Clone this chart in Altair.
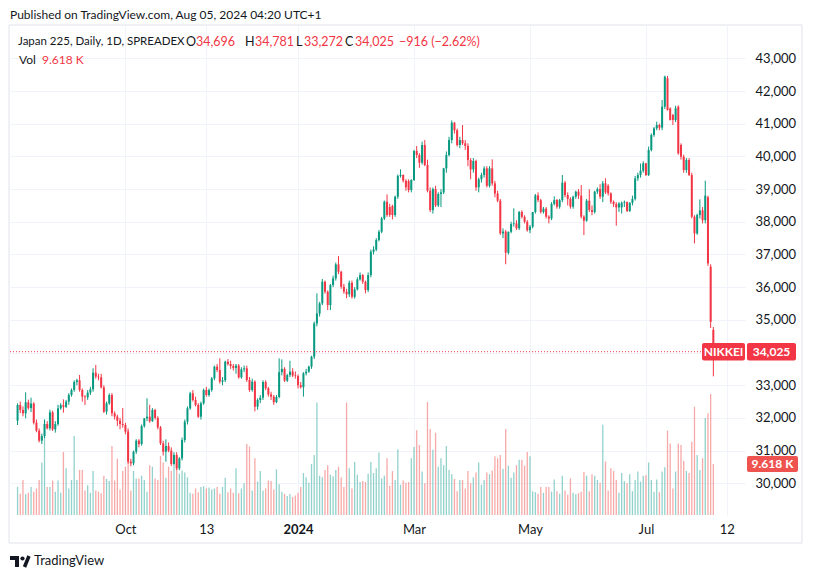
import altair as alt
import pandas as pd

# ---------------- data ----------------
opens = [
    31915, 32395, 32242, 32140, 32477, 32300, 32440, 31854, 31610, 31304,
    31446, 31814, 31681, 32170, 31650, 31810, 32293, 32390, 32340, 32497,
    32700, 32854, 33099, 33150, 32854, 32650, 32630, 32772, 32874, 33384,
    33262, 33241, 32935, 32191, 32446, 32700, 32140, 32040, 31915, 31814,
    31783, 31579, 30661, 30610, 30967, 31304, 31200, 31752, 31987, 32038,
    31900, 32242, 32000, 31711, 31222, 30967, 31140, 30998, 30590, 30865,
    30456, 30763, 31324, 31885, 32293, 32752, 32548, 32395, 32038, 32446,
    32854, 32701, 32854, 33211, 33568, 33466, 33109, 33150, 33721, 33650,
    33588, 33530, 33600, 33241, 33486, 33517, 33160, 32854, 33109, 32344,
    32548, 32620, 33100, 32905, 32720, 32650, 32480, 32640, 33400, 33500,
    33140, 33310, 33415, 33300, 33280, 33000, 32940, 33364, 33415, 33568,
    33874, 34891, 35197, 35503, 36166, 35860, 35452, 36064, 36268, 36697,
    36472, 36013, 35860, 35780, 36135, 35705, 35930, 36237, 36370, 36166,
    35911, 36370, 37084, 37150, 37441, 37696, 38104, 38614, 38450, 38480,
    38206, 38767, 39399, 39430, 39257, 39246, 38971, 39277, 40164, 40042,
    39807, 40348, 39736, 38950, 38359, 39000, 38500, 38850, 38900, 39634,
    40042, 40500, 41031, 40800, 40348, 40500, 40400, 40320, 39889, 39600,
    39860, 39053, 39300, 39430, 39634, 39100, 39634, 39175, 38865, 38645,
    37645, 37700, 37053, 37695, 37930, 37950, 37800, 38300, 38150, 38000,
    37740, 37850, 38300, 38808, 38660, 38300, 38400, 38155, 38100, 38543,
    38664, 38460, 38660, 39195, 38818, 38700, 38461, 38767, 38920, 38800,
    38155, 38033, 38645, 38359, 38300, 38920, 39000, 38767, 39175, 39100,
    38869, 38614, 38540, 38440, 38440, 38580, 38600, 38330, 38580, 38700,
    39328, 39430, 39563, 39787, 39430, 40195, 40654, 40858, 40960, 40880,
    41521, 42388, 41470, 41266, 41113, 41521, 40348, 39991, 39583, 39889,
    39430, 38155, 37645, 38206, 38350, 38050, 38750, 36625, 34696,
]
highs = [
    32446, 32500, 32350, 32783, 32560, 32620, 32480, 31950, 31680, 31520,
    31950, 31900, 32250, 32220, 31900, 32400, 32450, 32568, 32550, 32760,
    32900, 33150, 33200, 33313, 32900, 32700, 32850, 32950, 33520, 33620,
    33350, 33350, 33000, 32500, 32750, 32760, 32200, 32100, 32000, 32300,
    31850, 31650, 30750, 31000, 31350, 31350, 31800, 32000, 32600, 32400,
    32300, 32280, 32050, 31750, 31300, 31345, 31250, 31100, 30950, 30950,
    30800, 31400, 31950, 32350, 32800, 32850, 32650, 32450, 32500, 32900,
    32950, 32900, 33250, 33600, 33650, 33823, 33250, 33750, 33800, 33750,
    33650, 33650, 33650, 33550, 33600, 33600, 33250, 33200, 33150, 32600,
    32700, 33150, 33150, 32950, 32800, 32700, 32700, 33820, 33790, 33550,
    33350, 33750, 33520, 33420, 33330, 33100, 33400, 33500, 33600, 33900,
    34950, 35809, 35550, 36250, 36200, 35900, 36100, 36350, 36750, 36951,
    36500, 36100, 35950, 36200, 36200, 36000, 36300, 36450, 36400, 36200,
    36450, 37150, 37250, 37500, 37750, 38150, 38650, 38838, 38550, 38520,
    38800, 39450, 39603, 39450, 39300, 39300, 39300, 40200, 40317, 40100,
    40450, 40500, 39900, 39050, 39050, 39100, 38900, 39000, 39650, 40150,
    40600, 41100, 41050, 40850, 40600, 40960, 40500, 40400, 39950, 39950,
    39900, 39350, 39500, 39700, 39700, 39700, 39910, 39250, 38950, 38700,
    37800, 37750, 37700, 38000, 38410, 38050, 38330, 38350, 38200, 38050,
    37900, 38300, 38850, 38900, 38700, 38450, 38450, 38200, 38600, 38780,
    38700, 38700, 39430, 39250, 38900, 38750, 38800, 38950, 39000, 39124,
    38200, 38700, 38991, 38500, 38950, 39050, 39150, 39250, 39330, 39150,
    38900, 38650, 38600, 38600, 38620, 38650, 38620, 38600, 38800, 39400,
    39500, 39780, 39850, 39800, 40300, 40700, 40900, 41062, 41000, 41725,
    42470, 42460, 41500, 41300, 41550, 41560, 40400, 40050, 39950, 39950,
    39500, 38200, 38250, 38685, 38450, 39257, 38800, 36700, 34781,
]
lows = [
    31783, 32150, 32050, 31990, 32250, 32180, 31800, 31560, 31250, 31200,
    31380, 31650, 31620, 31600, 31550, 31760, 32250, 32160, 32300, 32400,
    32650, 32800, 33000, 32800, 32500, 32395, 32550, 32700, 32800, 33200,
    33150, 32900, 32150, 32100, 32400, 32050, 31950, 31750, 31650, 31700,
    31500, 30600, 30520, 30550, 30900, 31100, 31150, 31700, 31900, 31850,
    31880, 31950, 31650, 31170, 30850, 30660, 30950, 30530, 30550, 30406,
    30400, 30700, 31250, 31800, 32250, 32500, 32350, 32000, 31950, 32400,
    32650, 32650, 32800, 33150, 33400, 33050, 33000, 33100, 33600, 33500,
    33450, 33350, 33200, 33200, 33400, 33100, 32800, 32800, 32200, 32250,
    32450, 32550, 32850, 32650, 32550, 32400, 32450, 32600, 33300, 33100,
    33100, 33250, 33250, 33200, 32900, 32900, 32650, 33300, 33380, 33500,
    33800, 34800, 35100, 35450, 35800, 35299, 35300, 36000, 36200, 36400,
    35950, 35800, 35660, 35700, 35650, 35650, 35900, 36200, 36100, 35809,
    35850, 36300, 37000, 37100, 37400, 37650, 38050, 38150, 38150, 38073,
    38150, 38700, 39350, 39200, 38950, 38900, 38900, 39250, 39950, 39650,
    39750, 39700, 38900, 38300, 38250, 38450, 38450, 38450, 38850, 39500,
    40000, 40400, 40700, 40300, 40250, 40350, 40200, 39700, 39300, 39500,
    38950, 38900, 39200, 39350, 39050, 39050, 39100, 38750, 38600, 37600,
    37500, 36700, 37000, 37650, 37850, 37750, 37750, 38100, 37950, 37700,
    37650, 37800, 38250, 38600, 38250, 38250, 38100, 37951, 38050, 38500,
    38400, 38400, 38600, 38750, 38500, 38400, 38400, 38700, 38700, 38100,
    37594, 38000, 38300, 38200, 38250, 38850, 38700, 38600, 38850, 38800,
    38550, 38450, 37880, 38300, 38250, 38450, 38300, 38300, 38500, 38650,
    39250, 39350, 39500, 39400, 39400, 40150, 40600, 40800, 40800, 40800,
    41450, 41400, 41100, 40960, 41050, 40050, 39900, 39500, 39500, 39400,
    38100, 37339, 37600, 38100, 37950, 37950, 36650, 34750, 33272,
]
closes = [
    32395, 32242, 32140, 32477, 32300, 32440, 31854, 31610, 31304, 31446,
    31814, 31681, 32170, 31650, 31810, 32293, 32390, 32340, 32497, 32700,
    32854, 33099, 33150, 32854, 32650, 32630, 32772, 32874, 33384, 33262,
    33241, 32935, 32191, 32446, 32700, 32140, 32040, 31915, 31814, 31783,
    31579, 30661, 30610, 30967, 31304, 31200, 31752, 31987, 32038, 31900,
    32242, 32000, 31711, 31222, 30967, 31140, 30998, 30590, 30865, 30456,
    30763, 31324, 31885, 32293, 32752, 32548, 32395, 32038, 32446, 32854,
    32701, 32854, 33211, 33568, 33466, 33109, 33150, 33721, 33650, 33588,
    33530, 33600, 33241, 33486, 33517, 33160, 32854, 33109, 32344, 32548,
    32620, 33100, 32905, 32720, 32650, 32480, 32640, 33400, 33500, 33140,
    33310, 33415, 33300, 33280, 33000, 32940, 33364, 33415, 33568, 33874,
    34891, 35197, 35503, 36166, 35860, 35452, 36064, 36268, 36697, 36472,
    36013, 35860, 35780, 36135, 35705, 35930, 36237, 36370, 36166, 35911,
    36370, 37084, 37150, 37441, 37696, 38104, 38614, 38206, 38206, 38206,
    38767, 39399, 39430, 39257, 39053, 38971, 39277, 40164, 40042, 39807,
    40348, 39736, 38950, 38359, 39000, 38500, 38850, 38900, 39634, 40042,
    40500, 41031, 40800, 40348, 40500, 40400, 40320, 39889, 39600, 39860,
    39053, 39300, 39430, 39634, 39100, 39634, 39175, 38865, 38645, 37645,
    37700, 37053, 37695, 37930, 37950, 37800, 38300, 38150, 38000, 37740,
    37850, 38300, 38808, 38660, 38300, 38400, 38155, 38100, 38543, 38664,
    38460, 38660, 39195, 38818, 38700, 38461, 38767, 38920, 38800, 38155,
    38033, 38645, 38359, 38300, 38920, 39000, 38767, 39175, 38900, 38869,
    38614, 38540, 38440, 38560, 38580, 38600, 38330, 38580, 38700, 39328,
    39430, 39563, 39787, 39430, 40195, 40654, 40858, 40960, 40880, 41521,
    42439, 41419, 41113, 41113, 41470, 40093, 39991, 39583, 39889, 39430,
    38155, 37645, 38206, 38350, 38050, 38800, 36727, 34941, 34025,
]
volumes_k = [
    5.3, 4.0, 6.6, 3.9, 4.2, 5.3, 4.4, 5.0, 6.6, 9.9,
    18.0, 5.3, 5.3, 6.5, 4.4, 6.5, 4.2, 11.9, 8.8, 5.0,
    6.6, 14.9, 6.6, 8.5, 8.5, 4.6, 5.6, 4.2, 8.3, 4.6,
    4.4, 4.1, 7.4, 6.8, 6.4, 13.0, 6.5, 10.6, 4.8, 8.3,
    9.1, 16.4, 4.6, 8.3, 6.9, 6.9, 7.4, 6.6, 4.4, 9.4,
    9.1, 6.9, 6.6, 11.1, 9.9, 7.0, 9.1, 8.3, 9.4, 8.8,
    7.8, 8.4, 8.0, 7.1, 4.2, 4.0, 5.0, 4.3, 5.3, 5.4,
    5.0, 5.2, 4.8, 5.0, 5.3, 4.0, 5.3, 7.0, 4.3, 5.0,
    4.2, 8.8, 4.1, 5.0, 6.0, 13.4, 12.9, 4.6, 10.7, 6.3,
    8.3, 4.6, 5.0, 6.5, 6.4, 4.8, 8.6, 5.8, 4.4, 4.0,
    3.6, 3.9, 3.4, 3.7, 4.2, 5.3, 7.9, 7.1, 6.1, 9.6,
    11.3, 21.2, 7.4, 7.1, 8.5, 9.4, 7.6, 7.3, 8.5, 9.1,
    7.1, 5.3, 21.2, 8.8, 5.0, 10.0, 7.6, 6.2, 6.4, 6.2,
    7.8, 10.0, 7.9, 8.8, 11.8, 6.9, 7.4, 10.7, 5.5, 8.3,
    6.6, 12.4, 5.7, 6.5, 6.1, 6.2, 10.7, 12.8, 16.0, 13.2,
    8.2, 6.0, 21.3, 16.2, 12.3, 15.5, 9.1, 10.7, 9.4, 13.0,
    8.5, 7.7, 6.8, 4.5, 6.6, 6.6, 5.0, 8.3, 6.0, 7.1,
    8.0, 9.9, 5.7, 6.6, 8.0, 7.7, 8.4, 11.1, 10.7, 11.3,
    8.7, 16.2, 9.3, 7.0, 8.0, 9.4, 10.4, 10.4, 9.3, 11.9,
    11.1, 4.5, 4.3, 4.0, 5.3, 4.2, 5.3, 5.3, 4.4, 6.7,
    4.5, 4.0, 7.4, 4.6, 3.8, 6.9, 4.2, 3.9, 4.1, 4.4,
    8.1, 7.4, 4.5, 7.7, 7.4, 6.6, 6.1, 17.0, 10.1, 4.6,
    8.8, 8.3, 6.6, 4.2, 7.9, 6.4, 6.0, 7.7, 4.5, 6.6,
    8.2, 6.3, 7.4, 7.5, 9.9, 6.6, 4.4, 6.7, 4.3, 8.2,
    9.0, 15.9, 13.5, 5.0, 8.2, 13.5, 13.2, 10.2, 8.3, 7.9,
    13.8, 20.4, 11.3, 8.5, 10.7, 18.3, 19.2, 22.8, 9.618,
]

# time axis: bar index of the labelled sessions and their labels
tick_index = [40, 70, 104, 147, 190, 233, 263]
tick_text = ["Oct", "13", "2024", "Mar", "May", "Jul", "12"]
price_ticks = list(range(30000, 44000, 1000))

assert len(opens) == len(highs) == len(lows) == len(closes) == len(volumes_k)

# ---------------- styling ----------------
FONT = "Lato"
TXT = "#131722"
UP, DOWN = "#089981", "#f23645"
VUP, VDOWN = "#26a69a", "#ef5350"
GRID = "#f0f3fa"
W, H = 735, 489

n = len(closes)
df = pd.DataFrame({"i": list(range(n)), "open": opens, "high": highs,
                   "low": lows, "close": closes, "vol": volumes_k})
last = df.tail(1)

xs = alt.Scale(domain=[-0.95, 267.88], nice=False, zero=False)
ps = alt.Scale(domain=[29030, 43989], nice=False, zero=False)
vs = alt.Scale(domain=[0, 92.2], nice=False)

expr = "''"
for idx, t in reversed(list(zip(tick_index, tick_text))):
    expr = f"datum.value == {idx} ? '{t}' : {expr}"

x_axis = alt.Axis(values=tick_index, labelExpr=expr, grid=True, gridColor=GRID,
                  domain=False, ticks=False, labelPadding=8, labelFontSize=13,
                  labelColor=TXT, labelFont=FONT, title=None, labelFlush=False,
                  labelOverlap=False,
                  labelFontWeight={"condition": {"test": f"datum.value == {tick_index[2]}",
                                                 "value": "bold"}, "value": "normal"})
# the label that sits under the last-price tag is hidden, as in the original
y_axis = alt.Axis(orient="right", values=price_ticks,
                  labelExpr=f"abs(datum.value - {closes[-1]}) < 500 ? '' : format(datum.value, ',.0f')",
                  grid=True, gridColor=GRID, domain=False, ticks=False, labelPadding=10,
                  labelFontSize=13, labelColor=TXT, labelFont=FONT, title=None)

X = alt.X("i:Q", scale=xs, axis=x_axis)
is_up = "datum.close >= datum.open"
candle_col = alt.condition(is_up, alt.value(UP), alt.value(DOWN))
vol_col = alt.condition(is_up, alt.value(VUP), alt.value(VDOWN))

# volume sub-layer
vol_bars = alt.Chart(df).mark_bar(size=1.3, opacity=0.5).encode(
    x=X, y=alt.Y("vol:Q", scale=vs, axis=None), color=vol_col)
vol_box = alt.Chart(last).transform_calculate(
    vt="datum.vol + 1.5", vb="datum.vol - 1.5"
).mark_rect(color=VDOWN, cornerRadius=2).encode(
    x=alt.value(737), x2=alt.value(788),
    y=alt.Y("vt:Q", scale=vs, axis=None), y2="vb:Q")
vol_txt = alt.Chart(last).transform_calculate(
    lab="format(datum.vol, '.3f') + '\u202fK'"
).mark_text(color="white", fontWeight="bold", fontSize=12, font=FONT).encode(
    x=alt.value(762.5), y=alt.Y("vol:Q", scale=vs, axis=None), text="lab:N")
vol_layer = alt.layer(vol_bars, vol_box, vol_txt)

# price sub-layer
Yp = lambda f: alt.Y(f, scale=ps, axis=y_axis)
wicks = alt.Chart(df).mark_rule(strokeWidth=1).encode(
    x=X, y=Yp("low:Q"), y2="high:Q", color=candle_col)
bodies = alt.Chart(df).mark_bar(size=2).encode(
    x=X, y=Yp("open:Q"), y2="close:Q", color=candle_col)
dotted = alt.Chart(last).mark_rule(strokeDash=[1, 2], strokeWidth=1, color=DOWN).encode(
    y=Yp("close:Q"), x=alt.value(0), x2=alt.value(692))
pbox = alt.Chart(last).transform_calculate(
    pt="datum.close + 265", pb="datum.close - 265"
).mark_rect(color=DOWN, cornerRadius=2).encode(
    x=alt.value(737), x2=alt.value(786), y=Yp("pt:Q"), y2="pb:Q")
nbox = alt.Chart(last).transform_calculate(
    pt="datum.close + 265", pb="datum.close - 265"
).mark_rect(color=DOWN, cornerRadius=2).encode(
    x=alt.value(692), x2=alt.value(735), y=Yp("pt:Q"), y2="pb:Q")
ptxt = alt.Chart(last).mark_text(color="white", fontWeight="bold", fontSize=12, font=FONT).encode(
    x=alt.value(761.5), y=Yp("close:Q"), text=alt.Text("close:Q", format=","))
ntxt = alt.Chart(last).mark_text(text="NIKKEI", color="white", fontWeight="bold",
                                 fontSize=12, font=FONT).encode(
    x=alt.value(713.5), y=Yp("close:Q"))
price_layer = alt.layer(wicks, bodies, dotted, nbox, pbox, ptxt, ntxt)

# ---------------- annotations ----------------
one = pd.DataFrame({"k": [0]})


def label(text, x, y, color=TXT, size=12, weight="normal", align="left"):
    return alt.Chart(one).mark_text(text=text, align=align, baseline="middle",
                                    fontSize=size, fontWeight=weight, color=color,
                                    font=FONT).encode(x=alt.value(x), y=alt.value(y))


frame = alt.Chart(one).mark_rect(fill=None, stroke="#e0e3eb", strokeWidth=1).encode(
    x=alt.value(-1), x2=alt.value(792), y=alt.value(-1), y2=alt.value(517))

chg = closes[-1] - closes[-2]
pct = chg / closes[-2] * 100
minus = "\u2212"
chg_txt = f"{minus if chg < 0 else '+'}{abs(chg):,} ({minus if chg < 0 else '+'}{abs(pct):.2f}%)"
ly = 15.7
vs_ = 12.5
texts = [
    label("Published on TradingView.com, Aug 05, 2024 04:20 UTC+1", 0, -11.5),
    label("Japan 225, Daily, 1D, SPREADEX", 8, ly, size=11.5),
    label("O", 176, ly, size=vs_), label(f"{opens[-1]:,}", 186, ly, color=DOWN, size=vs_),
    label("H", 235, ly, size=vs_), label(f"{highs[-1]:,}", 245, ly, color=DOWN, size=vs_),
    label("L", 286, ly, size=vs_), label(f"{lows[-1]:,}", 294, ly, color=DOWN, size=vs_),
    label("C", 335, ly, size=vs_), label(f"{closes[-1]:,}", 345, ly, color=DOWN, size=vs_),
    label(chg_txt, 389, ly, color=DOWN, size=vs_),
    label("Vol", 9, 34), label(f"{volumes_k[-1]:.3f}\u202fK", 32, 34, color=DOWN),
    label("TradingView", 24, 535, size=13),
]

logo = [
    alt.Chart(one).mark_rect(color=TXT).encode(x=alt.value(0), x2=alt.value(9),
                                               y=alt.value(530), y2=alt.value(534)),
    alt.Chart(one).mark_rect(color=TXT).encode(x=alt.value(5), x2=alt.value(9),
                                               y=alt.value(530), y2=alt.value(541)),
    alt.Chart(one).mark_point(filled=True, color=TXT, size=18, opacity=1).encode(
        x=alt.value(12.5), y=alt.value(532.5)),
    alt.Chart(one).mark_rule(color=TXT, strokeWidth=3.5).encode(
        x=alt.value(19), x2=alt.value(14.5), y=alt.value(530), y2=alt.value(541)),
]

chart = alt.layer(frame, vol_layer, price_layer, *texts, *logo).resolve_scale(
    y="independent"
).properties(
    width=W, height=H,
    padding={"left": 2, "top": 18, "right": 60, "bottom": 56},
    autosize=alt.AutoSizeParams(type="none"),
    background="white",
).configure_view(stroke=None)

chart.save("out.html", embed_options={"renderer": "svg", "actions": False})
